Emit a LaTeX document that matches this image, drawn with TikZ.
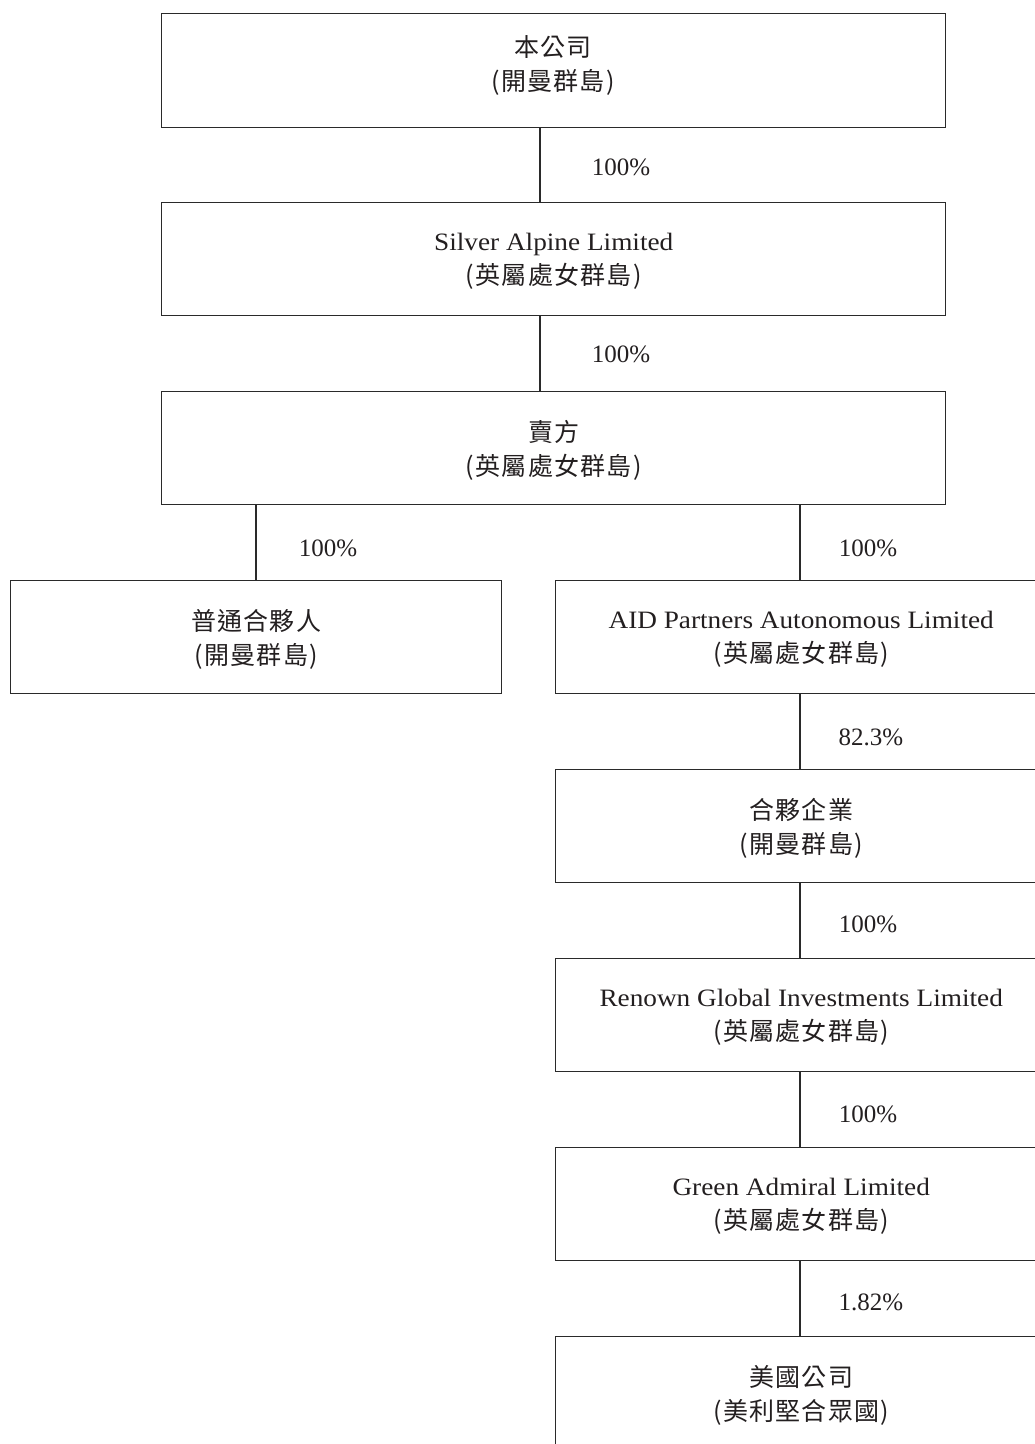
\documentclass[tikz,border=0pt]{standalone}
\usepackage{fontspec}
\setmainfont{Liberation Serif}
\newfontfamily\wid[FakeStretch=1.09]{Liberation Serif}
\newfontfamily\cjk[LetterSpace=5]{Noto Sans CJK TC}
\definecolor{ink}{HTML}{231F20}
\definecolor{frame}{HTML}{2A2A2A}
\begin{document}
\begin{tikzpicture}[x=1pt,y=-1pt,
  every node/.style={text=ink, font=\fontsize{25}{34}\selectfont},
  box/.style={draw=frame, line width=1.4pt, rectangle, inner sep=0pt, anchor=north west},
  wide/.style={box, minimum width=784pt, minimum height=113pt},
  half/.style={box, minimum width=491pt, minimum height=113pt},
  txt/.style={align=center, inner sep=0pt, yshift=-2.5pt},
  pct/.style={inner sep=0pt, anchor=center},
  link/.style={draw=frame, line width=1.4pt}]
\useasboundingbox (0,0) rectangle (1035,1444);
\clip (0,0) rectangle (1035,1444);
\coordinate (xa) at (540,0);
\coordinate (xl) at (256,0);
\coordinate (xr) at (800,0);
% boxes
\node[wide, minimum height=114pt] (b1) at (161,13) {};
\node[txt] (t1) at (553,62.5) {{\cjk 本公司}\\{\cjk (開曼群島)}};
\node[wide, label={[txt]center:{\wid Silver Alpine Limited}\\{\cjk (英屬處女群島)}}] (b2) at (161,202) {};
\node[wide, label={[txt]center:{\cjk 賣方}\\{\cjk (英屬處女群島)}}] (b3) at (161,391) {};
\node[half, label={[txt]center:{\cjk 普通合夥人}\\{\cjk (開曼群島)}}] (b4) at (10,580) {};
\node[half, label={[txt]center:{\wid AID Partners Autonomous Limited}\\{\cjk (英屬處女群島)}}] (b5) at (555,580) {};
\node[half, label={[txt]center:{\cjk 合夥企業}\\{\cjk (開曼群島)}}] (b6) at (555,769) {};
\node[half, label={[txt]center:{\wid Renown Global Investments Limited}\\{\cjk (英屬處女群島)}}] (b7) at (555,958) {};
\node[half, label={[txt]center:{\wid Green Admiral Limited}\\{\cjk (英屬處女群島)}}] (b8) at (555,1147) {};
\node[half, label={[txt]center:{\cjk 美國公司}\\{\cjk (美利堅合眾國)}}] (b9) at (555,1336) {};
% connectors
\draw[link] (b1.south -| xa) -- (b2.north -| xa);
\draw[link] (b2.south -| xa) -- (b3.north -| xa);
\draw[link] (b3.south -| xl) -- (b4.north -| xl);
\draw[link] (b3.south -| xr) -- (b5.north -| xr);
\draw[link] (b5.south -| xr) -- (b6.north -| xr);
\draw[link] (b6.south -| xr) -- (b7.north -| xr);
\draw[link] (b7.south -| xr) -- (b8.north -| xr);
\draw[link] (b8.south -| xr) -- (b9.north -| xr);
% labels
\node[pct] (p1) at (621,167) {100\%};
\node[pct] (p2) at (621,354) {100\%};
\node[pct] (p3) at (328,548) {100\%};
\node[pct] (p4) at (868,548) {100\%};
\node[pct] (p5) at (871,737) {82.3\%};
\node[pct] (p6) at (868,924) {100\%};
\node[pct] (p7) at (868,1114) {100\%};
\node[pct] (p8) at (871,1302) {1.82\%};
\end{tikzpicture}
\end{document}
